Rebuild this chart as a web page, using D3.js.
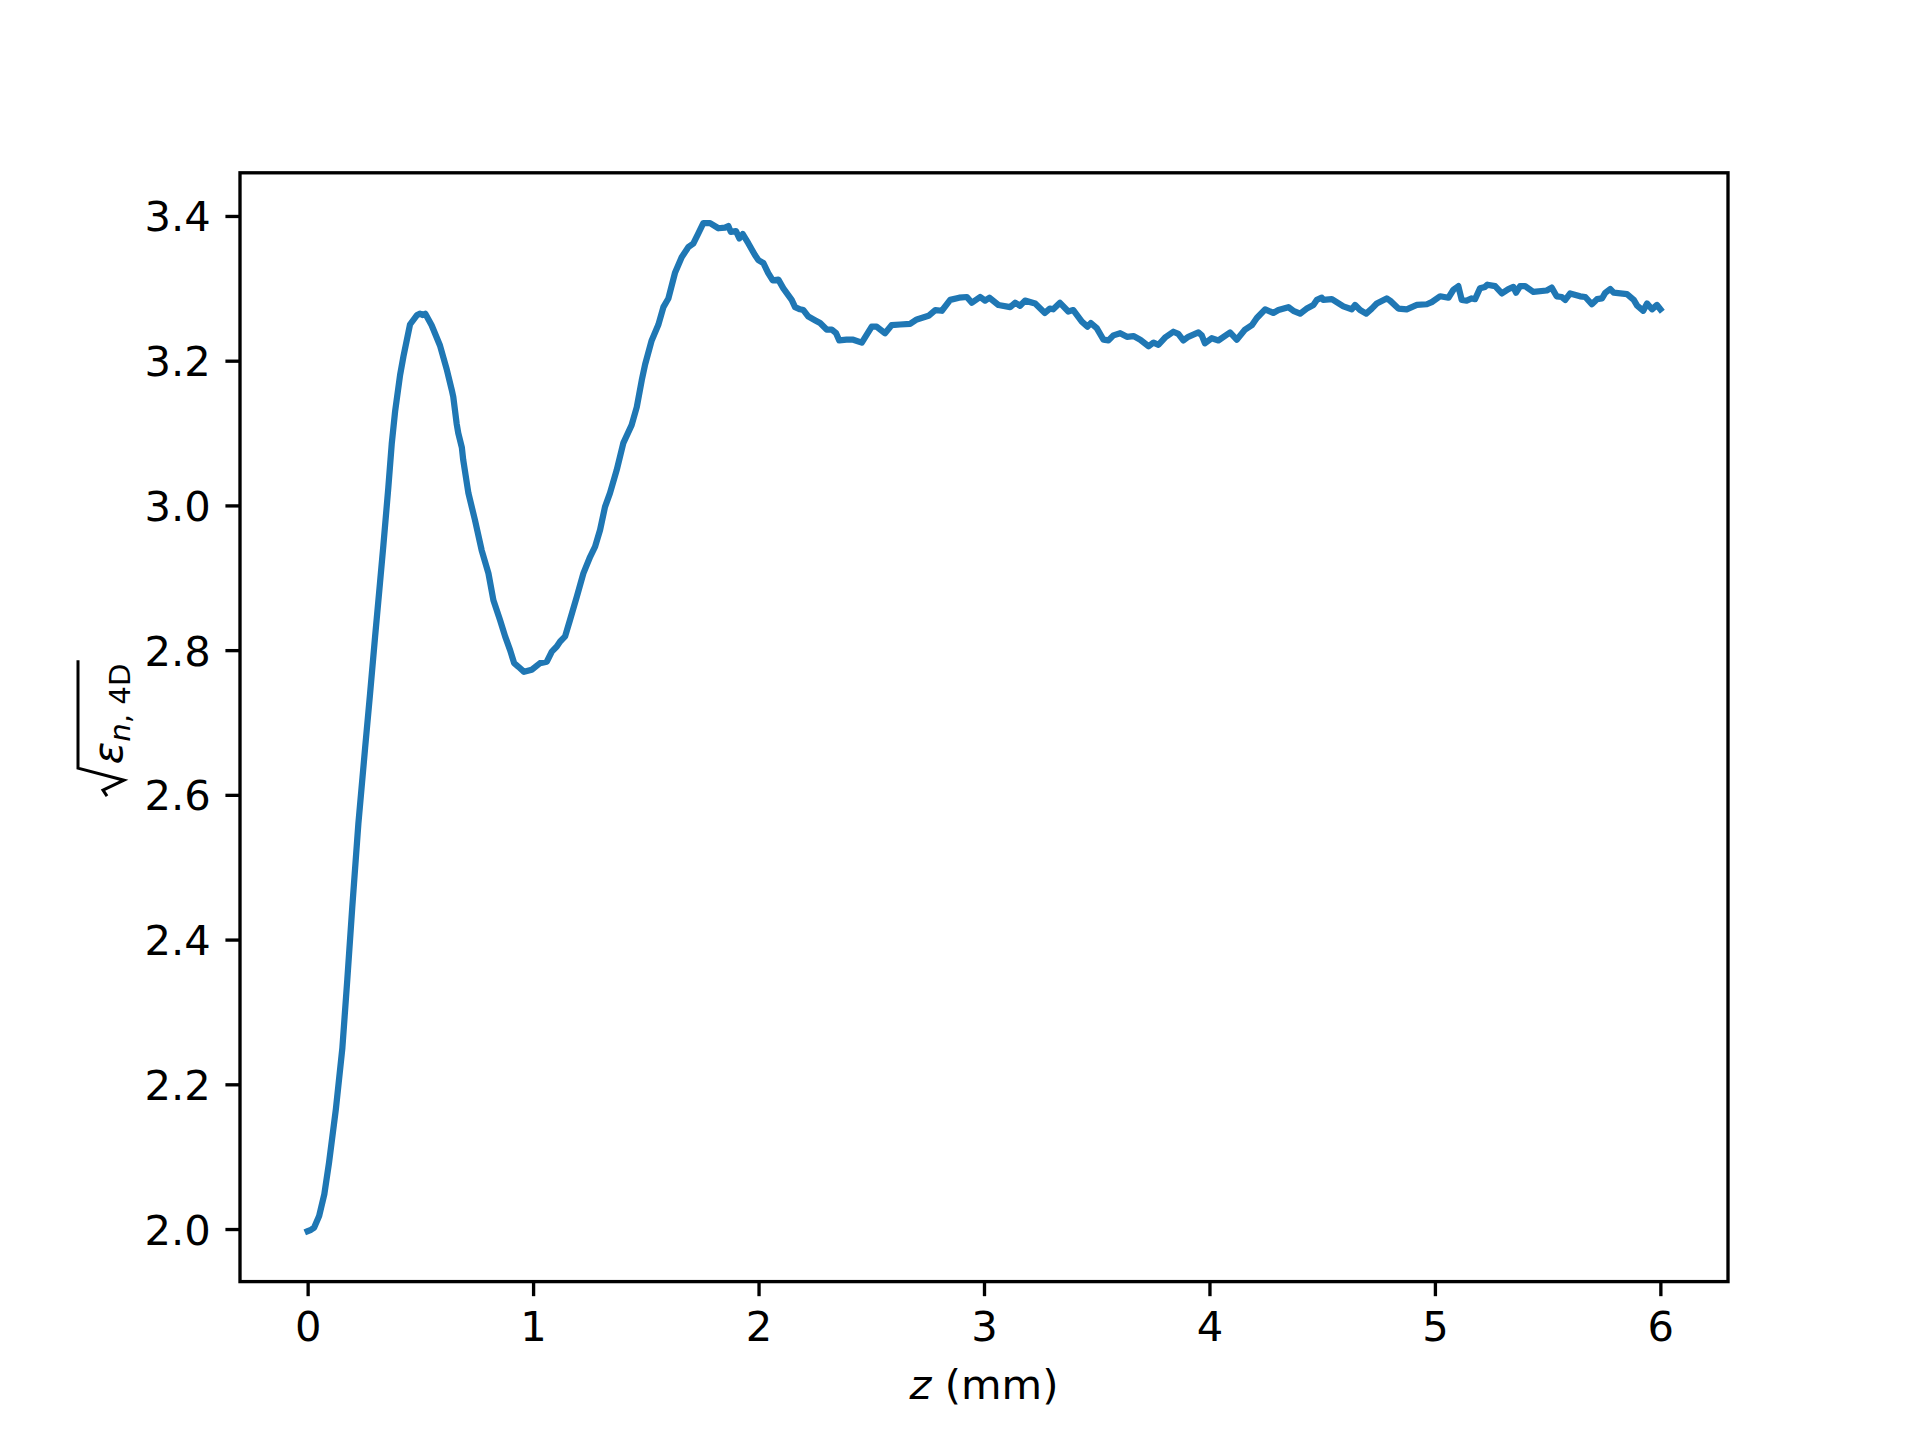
<!DOCTYPE html>
<html>
<head>
<meta charset="utf-8">
<script src="https://cdn.jsdelivr.net/npm/d3@7"></script>
<style>
  html, body { margin: 0; padding: 0; background: #ffffff; }
  svg { display: block; }
  text { font-family: "DejaVu Sans", sans-serif; fill: #000; }
</style>
</head>
<body>
<svg id="chart" width="1920" height="1440"></svg>
<script>
// ---- data ----
const zValues = [
  0.000, 0.015, 0.029, 0.051, 0.074, 0.095, 0.125, 0.154, 0.176, 0.198,
  0.225, 0.255, 0.277, 0.299, 0.321, 0.336, 0.358, 0.373, 0.388, 0.410,
  0.425, 0.454, 0.485,
  0.499, 0.510, 0.522, 0.550, 0.587, 0.617, 0.639, 0.646, 0.661, 0.668,
  0.684, 0.690, 0.713, 0.742, 0.772, 0.802, 0.824, 0.853, 0.876, 0.898,
  0.916, 0.935, 0.960, 0.994, 1.031, 1.061, 1.083, 1.105, 1.120, 1.142,
  1.164, 1.194, 1.223, 1.253, 1.275, 1.297, 1.319, 1.341, 1.371, 1.400,
  1.437, 1.460, 1.482, 1.497, 1.526, 1.556, 1.578, 1.600, 1.630, 1.659,
  1.689, 1.711, 1.733, 1.755, 1.785, 1.822, 1.851, 1.866, 1.877, 1.900,
  1.915, 1.930, 1.955, 1.984, 1.999, 2.021, 2.043, 2.063, 2.088, 2.110,
  2.147, 2.162, 2.184, 2.199, 2.221, 2.250, 2.273, 2.302, 2.325, 2.344,
  2.358, 2.390, 2.420, 2.458, 2.502, 2.524, 2.561, 2.590, 2.628, 2.672,
  2.702, 2.754, 2.784, 2.813, 2.850, 2.890, 2.924, 2.946, 2.983, 3.005,
  3.024, 3.064, 3.116, 3.138, 3.160, 3.182, 3.227, 3.270, 3.292, 3.307,
  3.337, 3.374, 3.396, 3.434, 3.459, 3.474, 3.500, 3.530, 3.552, 3.574,
  3.604, 3.634, 3.663, 3.693, 3.730, 3.752, 3.774, 3.803, 3.840, 3.862,
  3.884, 3.906, 3.951, 3.966, 3.980, 4.010, 4.040, 4.091, 4.121, 4.158,
  4.188, 4.210, 4.247, 4.283, 4.306, 4.350, 4.372, 4.402, 4.432, 4.461,
  4.476, 4.498, 4.505, 4.543, 4.594, 4.631, 4.646, 4.668, 4.695, 4.720,
  4.742, 4.786, 4.801, 4.838, 4.875, 4.920, 4.964, 4.986, 5.023, 5.060,
  5.082, 5.104, 5.119, 5.141, 5.163, 5.178, 5.200, 5.222, 5.233, 5.267,
  5.297, 5.326, 5.348, 5.360, 5.378, 5.400, 5.437, 5.496, 5.518, 5.540,
  5.563, 5.578, 5.600, 5.644, 5.667, 5.696, 5.719, 5.741, 5.756, 5.778,
  5.793, 5.852, 5.882, 5.897, 5.924, 5.941, 5.963, 5.985, 6.000
];
const emittanceValues = [
  1.997, 1.999, 2.002, 2.018, 2.048, 2.092, 2.165, 2.250, 2.345, 2.445,
  2.560, 2.665, 2.740, 2.818, 2.893, 2.945, 3.025, 3.085, 3.130, 3.180,
  3.206, 3.250, 3.263,
  3.265, 3.263, 3.265, 3.249, 3.221, 3.188, 3.160, 3.150, 3.113, 3.100,
  3.080, 3.063, 3.017, 2.980, 2.938, 2.906, 2.869, 2.842, 2.819, 2.800,
  2.782, 2.777, 2.770, 2.773, 2.782, 2.784, 2.798, 2.805, 2.812, 2.819,
  2.842, 2.874, 2.906, 2.929, 2.943, 2.966, 2.998, 3.017, 3.049, 3.086,
  3.111, 3.136, 3.173, 3.195, 3.228, 3.250, 3.274, 3.286, 3.322, 3.343,
  3.357, 3.362, 3.376, 3.390, 3.390, 3.383, 3.384, 3.386, 3.378, 3.379,
  3.369, 3.375, 3.362, 3.346, 3.339, 3.335, 3.321, 3.311, 3.312, 3.300,
  3.284, 3.274, 3.271, 3.270, 3.261, 3.256, 3.252, 3.243, 3.243, 3.238,
  3.228, 3.229, 3.229, 3.225, 3.247, 3.247, 3.238, 3.249, 3.250, 3.251,
  3.257, 3.262, 3.270, 3.269, 3.284, 3.287, 3.288, 3.280, 3.288, 3.283,
  3.287, 3.277, 3.274, 3.280, 3.276, 3.283, 3.279, 3.266, 3.272, 3.271,
  3.280, 3.268, 3.270, 3.254, 3.247, 3.252, 3.245, 3.229, 3.228, 3.235,
  3.238, 3.233, 3.234, 3.229, 3.220, 3.225, 3.222, 3.232, 3.240, 3.237,
  3.228, 3.233, 3.239, 3.235, 3.224, 3.231, 3.228, 3.239, 3.229, 3.243,
  3.249, 3.259, 3.271, 3.266, 3.270, 3.274, 3.269, 3.265, 3.272, 3.277,
  3.284, 3.287, 3.284, 3.285, 3.275, 3.271, 3.277, 3.270, 3.265, 3.272,
  3.279, 3.286, 3.283, 3.272, 3.271, 3.277, 3.278, 3.281, 3.289, 3.287,
  3.298, 3.303, 3.284, 3.283, 3.286, 3.285, 3.300, 3.302, 3.305, 3.303,
  3.293, 3.299, 3.302, 3.294, 3.303, 3.303, 3.295, 3.297, 3.301, 3.289,
  3.288, 3.284, 3.293, 3.289, 3.288, 3.278, 3.285, 3.286, 3.294, 3.299,
  3.294, 3.292, 3.284, 3.276, 3.269, 3.279, 3.271, 3.277, 3.271
];
const xTickValues = [0, 1, 2, 3, 4, 5, 6];
const xTickLabels = ["0", "1", "2", "3", "4", "5", "6"];
const yTickValues = [2.0, 2.2, 2.4, 2.6, 2.8, 3.0, 3.2, 3.4];
const yTickLabels = ["2.0", "2.2", "2.4", "2.6", "2.8", "3.0", "3.2", "3.4"];

// ---- layout (matplotlib defaults at 300 dpi) ----
const W = 1920, H = 1440;
const axLeft = 240, axRight = 1728, axTop = 172.8, axBottom = 1281.6;
const pt = 300 / 72;
const fontPx = 10 * pt;

const svg = d3.select("#chart");
svg.append("rect").attr("width", W).attr("height", H).attr("fill", "#fff");

// scales with 5% margins like matplotlib autoscale
const xExt = d3.extent(zValues), yExt = d3.extent(emittanceValues);
const xPad = (xExt[1] - xExt[0]) * 0.05, yPad = (yExt[1] - yExt[0]) * 0.05;
const x = d3.scaleLinear().domain([xExt[0] - xPad, xExt[1] + xPad]).range([axLeft, axRight]);
const y = d3.scaleLinear().domain([yExt[0] - yPad, yExt[1] + yPad]).range([axBottom, axTop]);

const data = zValues.map((z, i) => ({ z, v: emittanceValues[i] }));

// line
svg.append("clipPath").attr("id", "plotclip")
  .append("rect").attr("x", axLeft).attr("y", axTop)
  .attr("width", axRight - axLeft).attr("height", axBottom - axTop);

svg.append("path")
  .datum(data)
  .attr("clip-path", "url(#plotclip)")
  .attr("fill", "none")
  .attr("stroke", "#1f77b4")
  .attr("stroke-width", 1.5 * pt)
  .attr("stroke-linejoin", "round")
  .attr("stroke-linecap", "square")
  .attr("d", d3.line().x(d => x(d.z)).y(d => y(d.v)));

// axes using d3 axis generators
const tickLen = 3.5 * pt, tickPad = 3.5 * pt, lw = 0.8 * pt;

const xAxis = d3.axisBottom(x).tickValues(xTickValues)
  .tickFormat((d, i) => xTickLabels[i]).tickSize(tickLen).tickPadding(tickPad);
const gx = svg.append("g").attr("transform", `translate(0,${axBottom})`).call(xAxis);
gx.select(".domain").remove();
gx.selectAll(".tick line").attr("stroke", "#000").attr("stroke-width", lw);
gx.selectAll(".tick text")
  .attr("font-size", fontPx).attr("font-family", "DejaVu Sans")
  .attr("fill", "#000").attr("dy", null).attr("y", 1341 - axBottom);

const yAxis = d3.axisLeft(y).tickValues(yTickValues)
  .tickFormat((d, i) => yTickLabels[i]).tickSize(tickLen).tickPadding(tickPad);
const gy = svg.append("g").attr("transform", `translate(${axLeft},0)`).call(yAxis);
gy.select(".domain").remove();
gy.selectAll(".tick line").attr("stroke", "#000").attr("stroke-width", lw);
gy.selectAll(".tick text")
  .attr("font-size", fontPx).attr("font-family", "DejaVu Sans")
  .attr("fill", "#000").attr("dy", "0.36em");

// spines
svg.append("rect")
  .attr("x", axLeft).attr("y", axTop)
  .attr("width", axRight - axLeft).attr("height", axBottom - axTop)
  .attr("fill", "none").attr("stroke", "#000").attr("stroke-width", lw)
  .attr("stroke-linejoin", "miter");

// x label: "z (mm)" with italic z
const xl = svg.append("text")
  .attr("x", (axLeft + axRight) / 2).attr("y", 1399)
  .attr("text-anchor", "middle").attr("font-size", fontPx);
xl.append("tspan").attr("font-style", "italic").text("z");
xl.append("tspan").text(" (mm)");

// y label: sqrt(epsilon_{n,4D}), rotated
const cy = (axTop + axBottom) / 2;
const yl = svg.append("g").attr("transform", `translate(122,${cy}) rotate(-90)`);
yl.append("path")
  .attr("d", "M-69,-15 L-63,-19 L-53,2 L-41,-44 L67,-44")
  .attr("fill", "none").attr("stroke", "#000").attr("stroke-width", 3)
  .attr("stroke-linejoin", "miter");
const ylt = yl.append("text").attr("x", -37).attr("y", 0).attr("font-size", fontPx);
ylt.append("tspan").attr("font-style", "italic").text("ε");
ylt.append("tspan").attr("font-style", "italic").attr("font-size", fontPx * 0.7)
  .attr("dy", 8).text("n");
ylt.append("tspan").attr("font-size", fontPx * 0.7).text(", 4D");
</script>
</body>
</html>
